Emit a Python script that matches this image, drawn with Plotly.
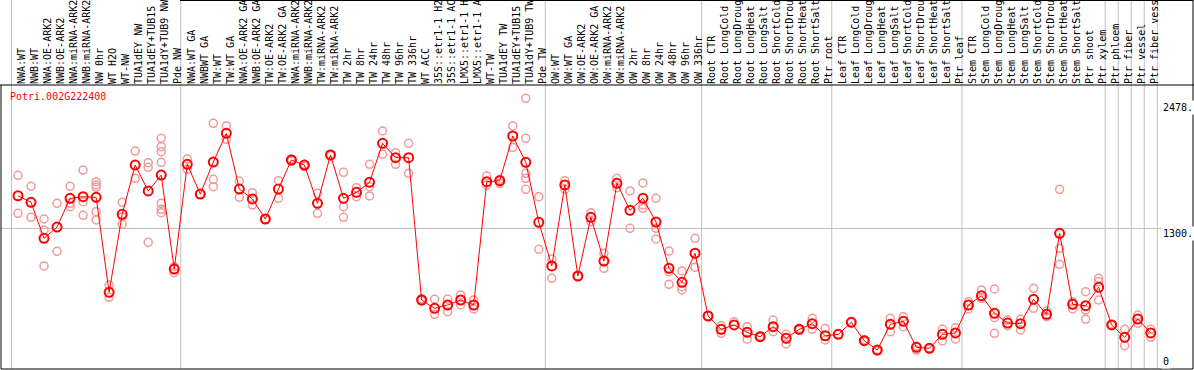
import plotly.graph_objects as go

# ---- data ----
gene_id = "Potri.002G222400"

categories = [
    "NWA:WT", "NWB:WT", "NWA:OE-ARK2", "NWB:OE-ARK2", "NWA:miRNA-ARK2", "NWB:miRNA-ARK2",
    "NW 0hr", "WT H2O", "WT-NW", "TUA1dEY NW", "TUA1dEY+TUB15", "TUA1dY+TUB9 NW", "Pde NW",
    "NWA:WT GA", "NWBWT GA", "TW:WT", "TW:WT GA", "NWA:OE-ARK2 GA", "NWB:OE-ARK2 GA",
    "TW:OE-ARK2", "TW:OE-ARK2 GA", "NWA:miRNA-ARK2", "NWB:miRNA-ARK2", "TW:miRNA-ARK2",
    "TW:miRNA-ARK2", "TW 2hr", "TW 8hr", "TW 24hr", "TW 48hr", "TW 96hr", "TW 336hr",
    "WT ACC", "35S::etr1-1 H2", "35S::etr1-1 AC", "LMX5::etr1-1 H", "LMX5::etr1-1 A",
    "WT-TW", "TUA1dEY TW", "TUA1dEY+TUB15", "TUA1dY+TUB9 TW", "Pde TW",
    "OW:WT", "OW:WT GA", "OW:OE-ARK2", "OW:OE-ARK2 GA", "OW:miRNA-ARK2", "OW:miRNA-ARK2",
    "OW 2hr", "OW 8hr", "OW 24hr", "OW 48hr", "OW 96hr", "OW 336hr",
    "Root CTR", "Root LongCold", "Root LongDroug", "Root LongHeat", "Root LongSalt",
    "Root ShortCold", "Root ShortDrou", "Root ShortHeat", "Root ShortSalt", "Ptr root",
    "Leaf CTR", "Leaf LongCold", "Leaf LongDroug", "Leaf LongHeat", "Leaf LongSalt",
    "Leaf ShortCold", "Leaf ShortDrou", "Leaf ShortHeat", "Leaf ShortSalt", "Ptr leaf",
    "Stem CTR", "Stem LongCold", "Stem LongDroug", "Stem LongHeat", "Stem LongSalt",
    "Stem ShortCold", "Stem ShortDrou", "Stem ShortHeat", "Stem ShortSalt", "Ptr shoot",
    "Ptr xylem", "Ptr phloem", "Ptr fiber", "Ptr vessel", "Ptr fiber vess",
]

mean_values = [
    1605, 1543, 1206, 1312, 1581, 1596, 1590, 700, 1431, 1893, 1650, 1799, 918,
    1900, 1621, 1921, 2190, 1668, 1575, 1387, 1668, 1940, 1893, 1534, 1987, 1581,
    1637, 1731, 2096, 1962, 1962, 628, 550, 581, 628, 581, 1737, 1746, 2165, 1918,
    1356, 947, 1706, 853, 1403, 993, 1722, 1469, 1581, 1359, 925, 794, 1066,
    478, 353, 394, 325, 284, 378, 269, 353, 406, 293,
    306, 419, 247, 159, 400, 428, 184, 175, 306, 319,
    581, 668, 503, 412, 406, 634, 494, 1253, 587, 575, 747,
    394, 278, 450, 319,
]

replicate_values = [
    [1797, 1440], [1693, 1403], [1387, 1284, 947], [1534, 1084], [1693, 1534, 1503],
    [1846, 1549, 1422], [1737, 1706, 1684, 1456, 1378], [768, 653], [1543, 1409, 1337],
    [2024, 1768], [1915, 1871, 1169], [2143, 2065, 2018, 1918, 1534, 1478, 1446],
    [940, 884], [1949, 1853], [1621], [2284, 1759, 1690], [2259, 2134], [1743, 1590],
    [1634, 1518], [1387], [1746, 1581], [1950, 1930], [1900, 1880], [1628, 1440],
    [1995, 1980], [1825, 1503, 1403], [1681, 1596], [1900, 1690, 1603], [2212, 1993],
    [2009, 1900], [2096, 1815], [640, 620], [634, 494], [637, 518], [675, 581],
    [628, 544], [1790, 1706], [1722, 1760], [2259, 2059], [2518, 2143, 1815, 1768, 1665],
    [1596, 1103], [1012, 831], [1746, 1665], [853], [1446, 1362], [1066, 925],
    [1768, 1681], [1650, 1300], [1725, 1518, 1487], [1581, 1300, 1200], [1087, 893, 775],
    [900, 753, 722], [1206, 934], [478], [387, 316], [425], [378, 260], [290, 278],
    [440, 331], [306, 216], [360, 345], [456, 353], [362, 253], [306], [419],
    [255, 240], [165, 150], [456, 331], [472, 378], [195, 159], [180, 170], [356, 244],
    [368, 260], [612, 544], [722, 644], [731, 462, 316], [440, 387], [447, 347],
    [737, 550], [525, 472], [1665, 1112, 962], [612, 544], [706, 534, 447],
    [831, 800, 628], [394, 400], [353, 200], [487, 409], [353, 278],
]

# group boundaries (index of first category of each new group)
group_starts = [0, 13, 41, 53, 63, 73, 84, 85, 86, 87, 88]

y_tick_values = [2478, 1300, 0]
y_tick_labels = ["2478.", "1300.", "0"]
grid_values = [1300]

# ---- figure ----
W, H = 1194, 370
ML, MR, MT, MB = 1, 1, 85, 1
plot_h = H - MT - MB
plot_w = W - ML - MR
FONT = "DejaVu Sans Mono"

n = len(categories)
xs = list(range(n))

rep_x, rep_y = [], []
for i, reps in enumerate(replicate_values):
    for v in reps:
        rep_x.append(i)
        rep_y.append(v)

fig = go.Figure()
fig.add_trace(go.Scatter(
    x=rep_x, y=rep_y, mode="markers",
    marker=dict(symbol="circle-open", size=8, color="#f29a9a", line=dict(width=1.5, color="#f29a9a")),
    hoverinfo="skip", cliponaxis=False,
))
fig.add_trace(go.Scatter(
    x=xs, y=mean_values, mode="lines+markers",
    line=dict(color="#ff0000", width=1),
    marker=dict(symbol="circle-open", size=9, color="#ff0000", line=dict(width=2, color="#ff0000")),
    hoverinfo="skip", cliponaxis=False,
))

px_per_cat = 13.02
x0 = -(18 - ML) / px_per_cat
x1 = x0 + plot_w / px_per_cat
y_lo, y_hi = -18.7, 2643

shapes = []
top_paper = 1 + MT / plot_h
for g in group_starts:
    shapes.append(dict(type="line", xref="x", yref="paper", x0=g - 0.5, x1=g - 0.5,
                       y0=0, y1=top_paper, line=dict(color="#c0c0c0", width=1), layer="below"))
# frame
shapes.append(dict(type="line", xref="paper", yref="paper", x0=-ML / plot_w, x1=1 + MR / plot_w,
                   y0=1, y1=1, line=dict(color="black", width=1)))
shapes.append(dict(type="line", xref="paper", yref="paper", x0=0, x1=0, y0=0, y1=1,
                   line=dict(color="black", width=1)))
shapes.append(dict(type="line", xref="paper", yref="paper", x0=1, x1=1, y0=0, y1=top_paper,
                   line=dict(color="black", width=1)))
shapes.append(dict(type="line", xref="paper", yref="paper", x0=0, x1=1, y0=0, y1=0,
                   line=dict(color="black", width=1)))
shapes.append(dict(type="line", xref="paper", yref="paper", x0=(180 - ML) / plot_w, x1=1,
                   y0=top_paper - 0.5 / plot_h, y1=top_paper - 0.5 / plot_h,
                   line=dict(color="black", width=1)))

annotations = [dict(
    text=gene_id, xref="paper", yref="paper", x=(8 - ML) / plot_w, y=(H - MB - 96.7) / plot_h,
    xanchor="left", yanchor="middle", showarrow=False,
    font=dict(family=FONT, size=10, color="#ff0000"),
)]
px_per_val = plot_h / (y_hi - y_lo)
for v, lab in zip(y_tick_values, y_tick_labels):
    val_px = (v - y_lo) * px_per_val  # from bottom of plot
    centre = min(val_px - 5, plot_h - 7) if v > 0 else 7
    shift = centre - val_px
    annotations.append(dict(
        text=lab, xref="paper", yref="y", x=(1161 - ML) / plot_w, y=v, yshift=shift,
        xanchor="left", yanchor="middle", showarrow=False, bgcolor="white",
        font=dict(family=FONT, size=10, color="black"),
    ))

fig.update_layout(
    width=W, height=H,
    margin=dict(l=ML, r=MR, t=MT, b=MB, pad=0),
    paper_bgcolor="white", plot_bgcolor="white",
    showlegend=False,
    shapes=shapes, annotations=annotations,
    xaxis=dict(range=[x0, x1], side="top", tickmode="array", tickvals=xs, ticktext=categories,
               tickangle=-90, ticks="", showgrid=False, zeroline=False, showline=False,
               ticklabelshift=4,
               tickfont=dict(family=FONT, size=10, color="black"), automargin=False,
               fixedrange=True),
    yaxis=dict(range=[y_lo, y_hi], tickmode="array", tickvals=grid_values, showticklabels=False,
               showgrid=True, gridcolor="#c0c0c0", gridwidth=1, zeroline=False, showline=False,
               ticks="", automargin=False, fixedrange=True),
)

fig.write_html("out.html", config={"staticPlot": True},
               post_script="document.body.style.margin='0';document.body.style.overflow='hidden';")
